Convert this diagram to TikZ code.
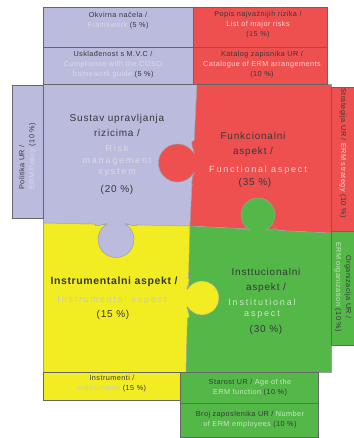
\documentclass[tikz,border=0pt]{standalone}
\usepackage{fontspec}
\setmainfont{Liberation Sans}
\newfontfamily\spacedfont[LetterSpace=6]{Liberation Sans}
\newfontfamily\widefont[LetterSpace=20]{Liberation Sans}
\newfontfamily\bigfont[LetterSpace=8]{Liberation Sans}
\definecolor{lav}{RGB}{187,187,222}
\definecolor{rd}{RGB}{238,80,80}
\definecolor{yl}{RGB}{242,236,34}
\definecolor{gr}{RGB}{84,184,72}
\definecolor{dk}{RGB}{55,55,60}
\definecolor{ltlav}{RGB}{218,218,230}
\definecolor{ltrd}{RGB}{250,208,208}
\definecolor{ltyl}{RGB}{200,200,212}
\definecolor{ltgr}{RGB}{200,232,195}
% x, y, rotation, colour, shoulder half-width W, head centre distance d, head radius R
\newcommand\puzzletab[7]{%
  \begin{scope}[shift={(#1,#2)},rotate=#3]
    \pgfmathsetmacro\tPx{#6-0.819*#7}
    \pgfmathsetmacro\tPy{0.574*#7}
    \pgfmathsetmacro\tCx{\tPx-0.574*0.4*#7}
    \pgfmathsetmacro\tCy{\tPy-0.819*0.4*#7}
    \pgfmathsetmacro\tSx{0.2*#5}
    \fill[#4] (-8,-#5) -- (0,-#5) .. controls (\tSx,-#5) and (\tCx,-\tCy) .. (\tPx,-\tPy)
      arc[start angle=-145, end angle=145, radius=#7]
      .. controls (\tCx,\tCy) and (\tSx,#5) .. (0,#5) -- (-8,#5) -- cycle;
    \draw[edge] (0,-#5) .. controls (\tSx,-#5) and (\tCx,-\tCy) .. (\tPx,-\tPy)
      arc[start angle=-145, end angle=145, radius=#7]
      .. controls (\tCx,\tCy) and (\tSx,#5) .. (0,#5);
  \end{scope}}
\begin{document}
\begin{tikzpicture}[x=1pt,y=-1pt,
  box/.style={draw=black!60,line width=0.6pt},
  edge/.style={draw=black!38,line width=0.5pt},
  small/.style={font=\spacedfont\fontsize{7.3}{10}\selectfont,text=dk,align=center,inner sep=0pt},
  big/.style={font=\bigfont\fontsize{10}{15}\selectfont,text=dk,align=center,inner sep=0pt},
  light/.style={font=\widefont\fontsize{9}{11.5}\selectfont,align=center,inner sep=0pt}]
\useasboundingbox (0,0) rectangle (353,438);
% puzzle pieces
\coordinate (C) at (190,226);
\fill[lav] (43,84) -- (197,84) -- (C) -- (43,223) -- cycle;
\fill[rd] (197,84) -- (331,84) -- (331,233) -- (C) -- cycle;
\fill[yl] (43,223) -- (C) -- (186,372) -- (43,372) -- cycle;
\fill[gr] (C) -- (331,233) -- (331,372) -- (186,372) -- cycle;
\draw[edge] (197,84) -- (C) -- (186,372) (43,223) -- (C) -- (331,233);
\puzzletab{193}{163}{180}{rd}{22}{15.5}{19}
\puzzletab{116}{224.5}{-90}{lav}{21}{15}{18}
\puzzletab{188}{298}{0}{yl}{20}{14}{17}
\puzzletab{258}{230}{90}{gr}{20}{15}{17}
\draw[edge] (43,84) rectangle (331,372);
% frame boxes
\draw[box,fill=lav] (43,7) rectangle (193,47);
\draw[box,fill=rd] (193,7) rectangle (327,47);
\draw[box,fill=lav] (43,47) rectangle (193,84);
\draw[box,fill=rd] (193,47) rectangle (327,84);
\draw[box,fill=lav] (12,85) rectangle (43,218);
\draw[box,fill=rd] (331,87) rectangle (356,231);
\draw[box,fill=gr] (331,231) rectangle (356,345);
\draw[box,fill=yl] (43,372) rectangle (180,400);
\draw[box,fill=gr] (180,372) rectangle (318,403);
\draw[box,fill=gr] (180,403) rectangle (318,437);
% frame texts
\node[small] (okv) at (118,21) {Okvirna načela /\\\textcolor{ltlav}{Framework} (5 \%)};
\node[small] (pop) at (258,25) {Popis najvažnijih rizika /\\\textcolor{ltrd}{List of major risks}\\(15 \%)};
\node[small] (usk) at (113,64.5) {Usklađenost s M.V.C /\\\textcolor{ltlav}{Compliance with the COSO}\\\textcolor{ltlav}{framework guide} (5 \%)};
\node[small] (kat) at (262,65) {Katalog zapisnika UR /\\\textcolor{ltrd}{Catalogue of ERM arrangements}\\(10 \%)};
\node[small,rotate=90,anchor=west,align=left] (pol) at (27.5,190) {Politika UR /\\\textcolor{ltlav}{ERM Policy} (10 \%)};
\node[small,rotate=-90] (str) at (343,153) {Strategija UR / \textcolor{ltrd}{ERM strategy} (10 \%)};
\node[small,rotate=-90] (org) at (343,287) {Organizacija UR /\\\textcolor{ltgr}{ERM organization} (10 \%)};
\node[small] (ins) at (112,384) {Instrumenti /\\\textcolor{ltyl}{Instruments} (15 \%)};
\node[small] (sta) at (250,388) {Starost UR / \textcolor{ltgr}{Age of the}\\\textcolor{ltgr}{ERM function} (10 \%)};
\node[small] (bro) at (250,420) {Broj zaposlenika UR / \textcolor{ltgr}{Number}\\\textcolor{ltgr}{of ERM employees} (10 \%)};
% puzzle texts
\node[big] (lavA) at (117,125.5) {Sustav upravljanja\\rizicima /};
\node[light,text=ltlav] (lavB) at (117,161) {Risk\\management\\system};
\node[big] (lavC) at (117,190) {(20 \%)};
\node[big] (rdA) at (253,144.5) {Funkcionalni\\aspekt /};
\node[light,text=ltrd] (rdB) at (258,170) {Functional aspect};
\node[big] (rdC) at (255,183) {(35 \%)};
\node[big,font=\spacedfont\bfseries\fontsize{10.5}{15}\selectfont] (ylA) at (114,282) {Instrumentalni aspekt /};
\node[light,text=ltyl] (ylB) at (112,300) {Instrumental aspect};
\node[big] (ylC) at (113,315) {(15 \%)};
\node[big] (grA) at (266,280.5) {Insttucionalni\\aspekt /};
\node[light,text=ltgr] (grB) at (262,308.5) {Institutional\\aspect};
\node[big] (grC) at (266,330) {(30 \%)};
\end{tikzpicture}
\end{document}
